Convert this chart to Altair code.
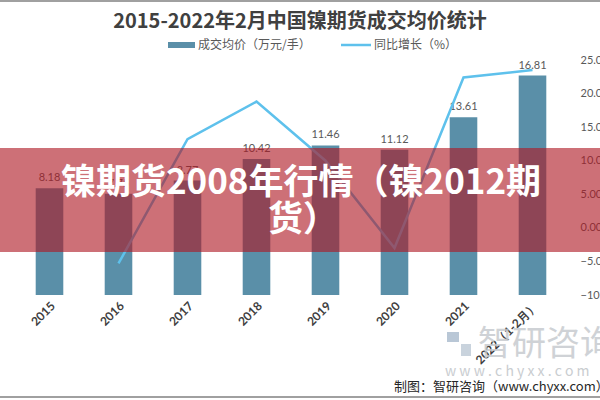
import altair as alt
import pandas as pd

# Nickel futures: average traded price (10k yuan / lot) and year-on-year growth (%)
years = ["2015", "2016", "2017", "2018", "2019", "2020", "2021", "2022（1-2月）"]
avg_price = [8.18, 7.75, 8.77, 10.42, 11.46, 11.12, 13.61, 16.81]
yoy_growth = [None, -5.3, 13.2, 18.8, 10.0, -3.0, 22.4, 23.5]

left_ticks = [0, 2, 4, 6, 8, 10, 12, 14, 16, 18]
right_ticks = [-10, -5, 0, 5, 10, 15, 20, 25]

df = pd.DataFrame({"year": years, "price": avg_price, "growth": yoy_growth})

W, H = 552, 235
BAR = "#5a8fa8"
LINE = "#5ec1ec"
CJK = "Noto Sans CJK SC"
NUM = "Lato"

x_enc = alt.X(
    "year:N", sort=years,
    scale=alt.Scale(paddingInner=0.6, paddingOuter=0.3),
    axis=alt.Axis(title=None, labelAngle=-45, labelFontWeight="bold",
                  labelFontSize=12, labelColor="#404040", labelFont=NUM,
                  domain=False, ticks=False, labelPadding=5),
)

bars = alt.Chart(df).mark_bar(color=BAR).encode(
    x=x_enc,
    y=alt.Y("price:Q", scale=alt.Scale(domain=[0, 18], nice=False),
            axis=alt.Axis(title=None, values=left_ticks, format=".2f",
                          grid=True, gridColor="#d9d9d9", domain=False,
                          ticks=False, labelPadding=11, labelColor="#595959",
                          labelFontSize=11, labelFont=NUM)),
)

bar_labels = alt.Chart(df).mark_text(
    baseline="bottom", dy=-5, fontSize=11, color="#595959", font=NUM
).encode(
    x=alt.X("year:N", sort=years),
    y=alt.Y("price:Q", axis=None),
    text=alt.Text("price:Q", format=".2f"),
)

left = alt.layer(bars, bar_labels)

line = alt.Chart(df).mark_line(color=LINE, strokeWidth=2.5).encode(
    x=alt.X("year:N", sort=years),
    y=alt.Y("growth:Q", scale=alt.Scale(domain=[-10, 25], nice=False),
            axis=alt.Axis(title=None, orient="right", values=right_ticks,
                          format=".2f", grid=False, domain=False, ticks=False,
                          labelPadding=13, labelColor="#595959",
                          labelFontSize=11, labelFont=NUM)),
)

one = alt.Data(values=[{}])

def label(text, x, y, size, color, weight="normal", align="center", font=CJK, opacity=1.0):
    return alt.Chart(one).mark_text(
        text=text, fontSize=size, color=color, fontWeight=weight,
        align=align, baseline="middle", font=font, opacity=opacity,
    ).encode(x=alt.value(x), y=alt.value(y))

def hrule(x1, x2, y, color, width):
    return alt.Chart(one).mark_rule(color=color, strokeWidth=width).encode(
        x=alt.value(x1), x2=alt.value(x2), y=alt.value(y))

def box(x1, x2, y1, y2, color, opacity=1.0):
    return alt.Chart(one).mark_rect(color=color, opacity=opacity).encode(
        x=alt.value(x1), x2=alt.value(x2), y=alt.value(y1), y2=alt.value(y2))

title = label("2015-2022年2月中国镍期货成交均价统计", 285, -38, 20, "#404040", weight="bold")

legend = [
    box(153, 180, -18, -12, BAR),
    label("成交均价（万元/手）", 183, -15, 12, "#595959", align="left"),
    hrule(326, 356, -15, LINE, 2.5),
    label("同比增长（%）", 359, -15, 12, "#595959", align="left"),
]

watermark = [
    box(432, 444, 272, 282, "#b9c7d6"),
    box(446, 456, 284, 296, "#c9d3dd"),
    label("智研咨询", 463, 285, 34, "#c4c8cc", align="left", opacity=0.8),
    label("w w w . c h y x x . c o m", 430, 312, 14, "#c4c8cc", align="left", opacity=0.9),
]

source = label("制图：智研咨询（www.chyxx.com）", 379, 327, 13, "#262626", align="left")

borders = [
    hrule(-15, 585, -59, "#a0a0a0", 2),
    hrule(-15, 585, 337, "#a0a0a0", 2),
]

banner = [
    box(-15, 585, 88, 192, "#af1923", opacity=0.62),
    label("镍期货2008年行情（镍2012期", 286, 123, 35, "white", weight="bold"),
    label("货）", 288, 160, 35, "white", weight="bold"),
]

chart = alt.layer(
    left, line, title, *legend, *watermark, source, *borders, *banner
).resolve_scale(y="independent").properties(
    width=W, height=H,
    autosize=alt.AutoSizeParams(type="none"),
    padding={"left": 15, "top": 60, "right": 33, "bottom": 105},
    background="white",
).configure_view(stroke=None)

chart.save("out.html", embed_options={"renderer": "svg", "actions": False})
